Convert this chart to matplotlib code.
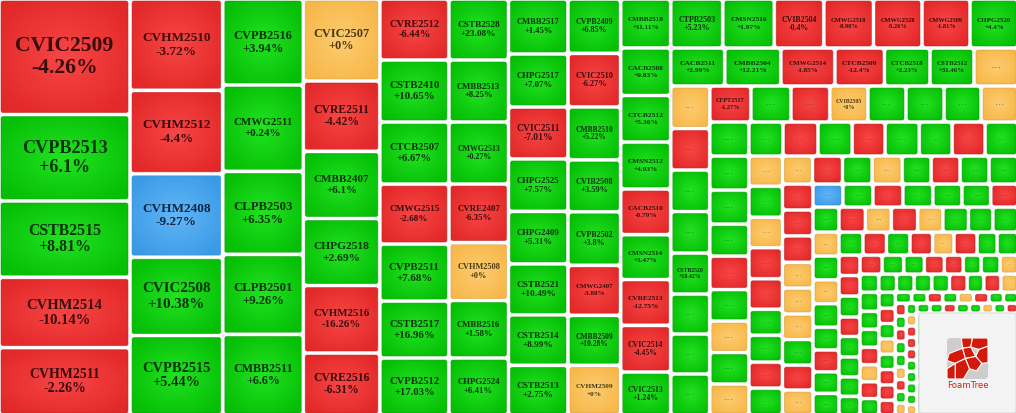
import numpy as np
import matplotlib.pyplot as plt
import matplotlib.colors as mcolors
from matplotlib.patches import FancyBboxPatch, Polygon
from matplotlib.textpath import TextPath
from matplotlib.font_manager import FontProperties

# --- DATA (strips in layout order: 'v' = column from the left, 'h' = row from the top) ---
strip_dirs = ["v", "v", "v", "v", "v", "v", "v", "v", "v",
              "h", "h", "v", "h", "h", "v", "v", "h", "v", "h", "h",
              "v", "h", "v", "h", "h", "v", "v", "h", "v", "v", "h", "v"]

# r = down, g = up, o = reference (0%), b = floor
strip_states = ["rggrr", "rrbgg", "ggggg", "orggrr", "rggrggg", "gggrogg",
                "ggrggggg", "grgggrgo", "ggggrgrrg",
                "ggrrrrg", "ggrrggo", "orgggggg", "rgrogggo", "ggrgrggrg",
                "gggrgogo", "ogorrggrg", "orgogrgg", "rrrooogro", "bgrgggr",
                "groroggg", "ogoggrgg", "grgrorgg", "rrgrgggg", "rggrrggo",
                "gggggrgro", "gggrorg", "grgogrrr", "ggrgorgg", "rgrggorgo",
                "gorrrggggo", "ggrggogr", "ggg"]

strip_volumes = [
    [151.2, 113.1, 99.9, 92.1, 88.1],
    [84.6, 77.2, 77.2, 72.5, 73.5],
    [69.2, 69.6, 66.8, 64.4, 64.8],
    [62.7, 53.9, 51.3, 51.3, 51.6, 47.4],
    [42.1, 42.8, 42.8, 41.4, 39.3, 39.3, 39.3],
    [36.3, 36.9, 36.9, 34.8, 34.5, 34.2, 33.9],
    [32.7, 31.5, 30.9, 31.2, 31.2, 30.3, 30.0, 29.5],
    [28.6, 28.1, 27.8, 27.3, 28.1, 26.3, 26.3, 26.0],
    [24.5, 23.8, 23.3, 23.5, 22.8, 22.5, 23.0, 23.3, 21.5],
    [25.5, 25.2, 24.3, 24.3, 23.8, 23.5, 23.5],
    [20.5, 21.3, 20.5, 18.8, 17.3, 16.7, 16.7],
    [16.6, 16.2, 16.2, 16.2, 16.0, 15.6, 15.6, 16.0],
    [14.8, 14.4, 14.0, 13.7, 13.7, 13.7, 13.3, 13.3],
    [13.3, 11.6, 11.9, 11.6, 11.2, 11.6, 11.2, 11.2, 11.2],
    [13.3, 13.3, 12.5, 13.1, 12.3, 12.3, 12.3, 12.1],
    [10.1, 10.4, 10.2, 10.4, 10.2, 8.7, 9.0, 8.7, 9.0],
    [8.4, 8.4, 8.3, 8.4, 8.1, 8.1, 8.1, 8.1],
    [7.9, 7.9, 8.1, 7.8, 7.9, 7.8, 7.8, 7.6, 7.6],
    [6.9, 6.9, 6.9, 6.9, 6.7, 6.6, 6.3],
    [6.5, 6.6, 6.5, 6.6, 6.3, 6.4, 6.1, 6.3],
    [6.2, 6.2, 6.2, 6.1, 5.9, 5.7, 5.6, 5.6],
    [5.5, 5.4, 5.4, 5.2, 4.9, 5.3, 4.6, 4.8],
    [4.3, 4.3, 4.4, 4.1, 4.3, 4.2, 4.1, 3.9],
    [4.2, 4.1, 3.9, 3.8, 3.6, 3.4, 3.6, 3.4],
    [3.4, 3.2, 3.2, 3.2, 3.2, 3.2, 3.0, 3.1, 3.1],
    [3.6, 3.4, 3.4, 3.3, 3.2, 3.2, 3.1],
    [2.6, 2.5, 2.5, 2.5, 2.5, 2.5, 2.5, 2.4],
    [1.8, 1.7, 1.7, 1.7, 1.7, 1.7, 1.6, 1.6],
    [1.4, 1.4, 1.4, 1.4, 1.4, 1.4, 1.3, 1.3, 1.3],
    [1.2, 1.2, 1.2, 1.2, 1.2, 1.2, 1.2, 1.2, 1.1, 1.1],
    [1.3, 1.3, 1.3, 1.3, 1.2, 1.2, 1.2, 1.2],
    [34.3, 34.3, 34.3],
]

strip_codes = [
    ["CVIC2509", "CVPB2513", "CSTB2515", "CVHM2514", "CVHM2511"],
    ["CVHM2510", "CVHM2512", "CVHM2408", "CVIC2508", "CVPB2515"],
    ["CVPB2516", "CMWG2511", "CLPB2503", "CLPB2501", "CMBB2511"],
    ["CVIC2507", "CVRE2511", "CMBB2407", "CHPG2518", "CVHM2516", "CVRE2516"],
    ["CVRE2512", "CSTB2410", "CTCB2507", "CMWG2515", "CVPB2511", "CSTB2517", "CVPB2512"],
    ["CSTB2528", "CMBB2513", "CMWG2513", "CVRE2407", "CVHM2508", "CMBB2516", "CHPG2524"],
    ["CMBB2517", "CHPG2517", "CVIC2511", "CHPG2525", "CHPG2409", "CSTB2521", "CSTB2514", "CSTB2513"],
    ["CVPB2409", "CVIC2510", "CMBB2510", "CVIB2508", "CVPB2502", "CMWG2407", "CMBB2509", "CVHM2509"],
    ["CMBB2518", "CACB2508", "CTCB2512", "CMSN2512", "CACB2510", "CMSN2514", "CVRE2513", "CVIC2514", "CVIC2513"],
    ["CTPB2503", "CMSN2516", "CVIB2504", "CMWG2518", "CMWG2528", "CMWG2509", "CHPG2520"],
    ["CACB2511", "CMBB2504", "CMWG2514", "CTCB2509", "CTCB2518", "CSTB2512", ""],
    ["", "", "", "", "CSTB2520", "", "", ""],
    ["CFPT2517", "", "", "CVIB2505", "", "", "", ""],
]

strip_changes = [
    [-4.26, 6.1, 8.81, -10.14, -2.26],
    [-3.72, -4.4, -9.27, 10.38, 5.44],
    [3.94, 0.24, 6.35, 9.26, 6.6],
    [0, -4.42, 6.1, 2.69, -16.26, -6.31],
    [-6.44, 10.65, 6.67, -2.68, 7.68, 16.96, 17.03],
    [23.08, 8.25, 0.27, -6.35, 0, 1.58, 6.41],
    [1.45, 7.07, -7.01, 7.57, 5.31, 10.49, 8.99, 2.75],
    [6.85, -6.27, 5.22, 3.59, 3.8, -3.88, 10.28, 0],
    [11.11, 0.83, 5.36, 4.93, -0.79, 3.47, -12.75, -4.45, 1.24],
    [5.23, 1.97, -0.4, -8.98, -5.26, -1.81, 4.4],
    [2.99, 12.21, -1.85, -12.4, 2.23, 31.46, None],
    [None, None, None, None, 18.42, None, None, None],
    [-1.27, None, None, 0, None, None, None, None],
]

# --- colours ---
EDGE = {"r": "#E22828", "g": "#05BE05", "o": "#F7B748", "b": "#3A9AE6"}
CENTER = {"r": "#F84646", "g": "#22E222", "o": "#FDCC70", "b": "#62B6F6"}
INK = {"r": "#3a0b0b", "g": "#063306", "o": "#4a3812", "b": "#0c2640"}

W_PX, H_PX = 1016, 413
DPI = 100


# --- strip treemap layout ---
def layout(x, y, w, h):
    rects = []
    remaining = sum(sum(v) for v in strip_volumes)
    for d, vols in zip(strip_dirs, strip_volumes):
        s = sum(vols)
        frac = s / remaining
        if d == "v":
            sw = w * frac
            cy = y
            for v in vols:
                ch = h * v / s
                rects.append((x, cy, sw, ch))
                cy += ch
            x += sw
            w -= sw
        else:
            sh = h * frac
            cx = x
            for v in vols:
                cw = w * v / s
                rects.append((cx, y, cw, sh))
                cx += cw
            y += sh
            h -= sh
        remaining -= s
    return rects


rects = layout(-1, -1, 1019, 416)

states, codes, changes = [], [], []
for i, vols in enumerate(strip_volumes):
    states += list(strip_states[i][:len(vols)])
    if i < len(strip_codes):
        codes += strip_codes[i]
        changes += strip_changes[i]
    else:
        codes += [""] * len(vols)
        changes += [None] * len(vols)

# radial gradient
n = 24
yy, xx = np.mgrid[-1:1:n * 1j, -1:1:n * 1j]
t = np.clip(np.sqrt(xx ** 2 + yy ** 2) / 1.3, 0, 1)[..., None]
grad = {k: np.array(mcolors.to_rgb(CENTER[k])) * (1 - t) + np.array(mcolors.to_rgb(EDGE[k])) * t
        for k in EDGE}

fp = FontProperties(family="Liberation Serif", weight="bold")


def ink_width(s):
    return TextPath((0, 0), s, size=1, prop=fp).get_extents().width


fig = plt.figure(figsize=(W_PX / DPI, H_PX / DPI), dpi=DPI)
ax = fig.add_axes([0, 0, 1, 1])
ax.set_xlim(0, W_PX)
ax.set_ylim(H_PX, 0)
ax.axis("off")

gap = 2.0
for (x, y, w, h), st, code, chg in zip(rects, states, codes, changes):
    if chg is not None and st != "b":
        st = "o" if chg == 0 else ("g" if chg > 0 else "r")
    x0, y0, cw, ch = x + gap, y + gap, w - 2 * gap, h - 2 * gap
    box = FancyBboxPatch((x0, y0), cw, ch, boxstyle="round,pad=0,rounding_size=2",
                         facecolor="none", edgecolor="none")
    ax.add_patch(box)
    im = ax.imshow(grad[st], extent=(x0, x0 + cw, y0 + ch, y0), aspect="auto",
                   interpolation="bilinear", zorder=1)
    im.set_clip_path(box)
    edge = np.array(mcolors.to_rgb(EDGE[st])) * 0.85
    ax.add_patch(FancyBboxPatch((x0, y0), cw, ch, boxstyle="round,pad=0,rounding_size=2",
                                facecolor="none", edgecolor=edge, lw=0.6, alpha=0.6, zorder=2))
    cx, cy = x0 + cw / 2, y0 + ch / 2
    if code:
        pct = f"{chg:+g}%"
        em = min(0.76 * cw / max(ink_width(code), ink_width(pct)), 0.22 * ch)
        fs = em * 72 / DPI
        ax.text(cx, cy - 0.5 * em, code, ha="center", va="center", fontproperties=fp,
                fontsize=fs, color=INK[st], zorder=3)
        ax.text(cx, cy + 0.52 * em, pct, ha="center", va="center", fontproperties=fp,
                fontsize=fs, color=INK[st], zorder=3)
    else:
        em = min(0.3 * cw, 12)
        ax.text(cx, cy + 0.08 * em, "...", ha="center", va="baseline", family="DejaVu Sans",
                fontsize=em * 72 / DPI, color="#333333", alpha=0.55, zorder=3)

# --- FoamTree badge ---
ax.add_patch(FancyBboxPatch((919, 313), 97, 100, boxstyle="round,pad=0,rounding_size=2",
                            facecolor="#f3f3f3", edgecolor="#dcdcdc", lw=0.8, zorder=5))
ix, iy, isz = 947, 338, 41
icon = FancyBboxPatch((ix, iy), isz, isz, boxstyle="round,pad=0,rounding_size=4",
                      facecolor="#cdcdcd", edgecolor="none", zorder=6)
ax.add_patch(icon)
cells = [
    [(0.35, 0), (0.62, 0), (0.58, 0.22), (0.38, 0.25)],
    [(0.62, 0), (1, 0), (1, 0.2), (0.78, 0.28), (0.58, 0.22)],
    [(0.05, 0.38), (0.38, 0.25), (0.45, 0.5), (0.2, 0.62), (0.0, 0.55)],
    [(0.38, 0.25), (0.58, 0.22), (0.7, 0.45), (0.45, 0.5)],
    [(0.78, 0.28), (1, 0.2), (1, 0.6), (0.85, 0.62), (0.7, 0.45)],
    [(0.2, 0.62), (0.45, 0.5), (0.55, 0.75), (0.4, 1), (0.2, 1)],
    [(0, 0.75), (0.2, 0.62), (0.2, 1), (0, 1)],
    [(0.45, 0.5), (0.7, 0.45), (0.85, 0.62), (0.72, 0.8), (0.55, 0.75)],
]
for c in cells:
    p = Polygon([(ix + u * isz, iy + v * isz) for u, v in c], closed=True,
                facecolor="#d3190c", edgecolor="white", lw=0.8, zorder=7)
    ax.add_patch(p)
    p.set_clip_path(icon)
ax.text(ix + isz / 2, iy + isz + 6, "FoamTree", ha="center", va="center",
        family="DejaVu Sans", fontsize=6.2, color="#d8200f", zorder=8)

fig.savefig("out.png", dpi=DPI, facecolor="white")
